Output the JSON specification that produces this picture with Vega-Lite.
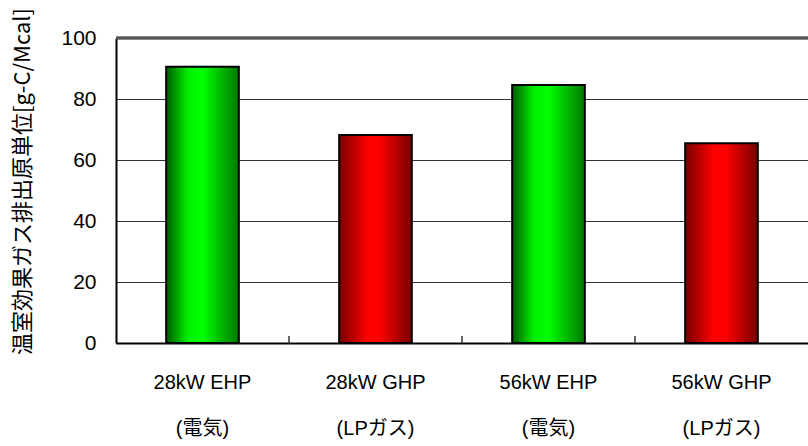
{
  "$schema": "https://vega.github.io/schema/vega-lite/v6.json",
  "autosize": "none",
  "padding": {"left": 116, "top": 38, "right": 0, "bottom": 103},
  "width": 692,
  "height": 305,
  "background": "white",
  "config": {"view": {"stroke": null}},
  "data": {
    "values": [
      {"label": "28kW EHP|(電気)", "type": "EHP", "value": 90.6},
      {"label": "28kW GHP|(LPガス)", "type": "GHP", "value": 68.2},
      {"label": "56kW EHP|(電気)", "type": "EHP", "value": 84.6},
      {"label": "56kW GHP|(LPガス)", "type": "GHP", "value": 65.5}
    ]
  },
  "encoding": {
    "x": {
      "field": "label",
      "type": "nominal",
      "sort": null,
      "scale": {"domain": ["28kW EHP|(電気)", "28kW GHP|(LPガス)", "56kW EHP|(電気)", "56kW GHP|(LPガス)"], "paddingInner": 0, "paddingOuter": 0},
      "axis": {
        "title": null,
        "labelAngle": 0,
        "labelExpr": "split(datum.label, '|')",
        "labelFont": "Arial, Noto Sans CJK JP",
        "labelFontSize": 20,
        "labelColor": "black",
        "labelLineHeight": 46,
        "labelPadding": 29,
        "labelBaseline": "top",
        "domainColor": "black",
        "domainWidth": 2,
        "ticks": false
      }
    },
    "y": {
      "field": "value",
      "type": "quantitative",
      "scale": {"domain": [0, 100], "nice": false},
      "axis": {
        "title": "温室効果ガス排出原単位[g-C/Mcal]",
        "titleFont": "Noto Sans CJK JP",
        "titleFontSize": 22,
        "titleFontWeight": "normal",
        "titleColor": "black",
        "titleX": -94,
        "titleY": 143,
        "titleAngle": -90,
        "titleAlign": "center",
        "titleBaseline": "middle",
        "values": [0, 20, 40, 60, 80, 100],
        "labelFont": "Arial",
        "labelFontSize": 21,
        "labelColor": "black",
        "labelPadding": 20,
        "ticks": false,
        "grid": true,
        "gridColor": "#333",
        "gridWidth": 1.2,
        "domainColor": "black",
        "domainWidth": 2
      }
    }
  },
  "layer": [
    {
      "mark": {"type": "rule", "color": "#555", "strokeWidth": 2.5},
      "encoding": {"y": {"datum": 100}, "x": {"value": 0}, "x2": {"value": 692}}
    },
    {
      "transform": [{"filter": "datum.label !== '28kW EHP|(電気)'"}],
      "mark": {"type": "rule", "color": "#333", "strokeWidth": 1.5},
      "encoding": {
        "x": {"field": "label", "type": "nominal", "bandPosition": 0},
        "y": {"datum": 0},
        "y2": {"datum": 2.3}
      }
    },
    {
      "transform": [{"filter": "datum.type === 'EHP'"}],
      "mark": {
        "type": "bar",
        "stroke": "black",
        "strokeWidth": 2,
        "width": {"band": 0.42},
        "color": {
          "gradient": "linear",
          "x1": 0, "y1": 0, "x2": 1, "y2": 0,
          "stops": [
            {"offset": 0, "color": "#005a00"},
            {"offset": 0.3, "color": "#00f000"},
            {"offset": 0.5, "color": "#00ff00"},
            {"offset": 0.7, "color": "#00c800"},
            {"offset": 1, "color": "#007800"}
          ]
        }
      },
      "encoding": {}
    },
    {
      "transform": [{"filter": "datum.type === 'GHP'"}],
      "mark": {
        "type": "bar",
        "stroke": "black",
        "strokeWidth": 2,
        "width": {"band": 0.42},
        "color": {
          "gradient": "linear",
          "x1": 0, "y1": 0, "x2": 1, "y2": 0,
          "stops": [
            {"offset": 0, "color": "#7a0000"},
            {"offset": 0.4, "color": "#ff0000"},
            {"offset": 0.55, "color": "#ff0000"},
            {"offset": 1, "color": "#780000"}
          ]
        }
      },
      "encoding": {}
    }
  ]
}
